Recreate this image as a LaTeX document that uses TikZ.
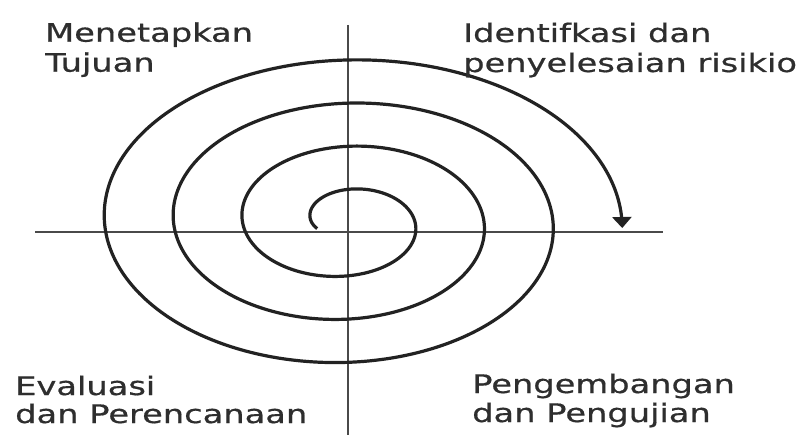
\documentclass[tikz,border=0pt]{standalone}
\usepackage{fontspec}
\usetikzlibrary{arrows.meta}
\newfontfamily\labfont[FakeStretch=1.32, FakeBold=0.6]{DejaVu Sans}
\definecolor{axisgray}{HTML}{4A4A4A}
\definecolor{spiralgray}{HTML}{222222}
\definecolor{textgray}{HTML}{2E2E2E}
\tikzset{
  axisline/.style={draw=axisgray, line width=2.8pt},
  spiralline/.style={draw=spiralgray, line width=3.2pt},
  lab/.style={anchor=base west, inner sep=0pt, text=textgray,
    font=\labfont\fontsize{25.5}{30}\selectfont}
}
\begin{document}
\begin{tikzpicture}[x=1pt, y=-1pt]
\useasboundingbox[fill=white] (0,0) rectangle (797,435);
% axes
\coordinate (vtop) at (348,25);
\coordinate (vbot) at (348,435);
\coordinate (hleft) at (35,232);
\coordinate (hright) at (663,232);
\draw[axisline] (vtop) -- (vbot);
\draw[axisline] (hleft) -- (hright);
% spiral
\draw[spiralline, -{Triangle[width=19pt,length=11pt]}]
  plot[domain=160:1442, samples=700, smooth]
  ({346+0.1917*\x*cos(\x)}, {222+0.12*\x*sin(\x)});
% labels
\node[lab] (l1a) at (45,41.7) {Menetapkan};
\node[lab] (l1b) at (45,71.7) {Tujuan};
\node[lab] (l2a) at (463,42) {Identifkasi dan};
\node[lab] (l2b) at (463,72) {penyelesaian risikio};
\node[lab] (l3a) at (15,395) {Evaluasi};
\node[lab] (l3b) at (15,423) {dan Perencanaan};
\node[lab] (l4a) at (472,393) {Pengembangan};
\node[lab] (l4b) at (472,422) {dan Pengujian};
\end{tikzpicture}
\end{document}
